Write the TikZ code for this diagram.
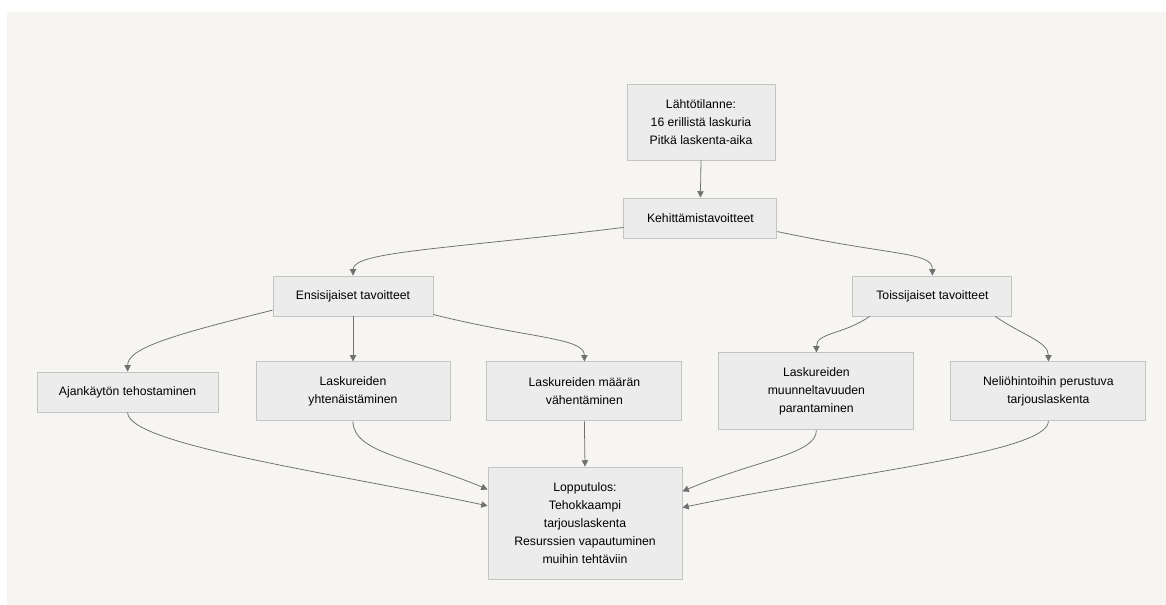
\documentclass[tikz,border=0pt]{standalone}
\usepackage{fontspec}
\setmainfont{Liberation Sans}
\usetikzlibrary{positioning,calc,arrows.meta}
\definecolor{bgpaper}{HTML}{F6F5F1}
\definecolor{boxfill}{HTML}{ECECEC}
\definecolor{boxline}{HTML}{C4C4C4}
\definecolor{edgegray}{HTML}{707070}

\begin{document}
\begin{tikzpicture}[
	box/.style={draw=boxline,fill=boxfill,line width=0.6pt,align=center,inner sep=0pt,font=\fontsize{8.7}{12.8}\selectfont},
	edge/.style={draw=edgegray,line width=0.55pt,-{Triangle[width=4.5pt,length=4.5pt]}}]
    		\useasboundingbox (0,0) rectangle (29.15,15.125);
    		\fill[white] (0,0) rectangle (29.15,15.125);
    		\fill[bgpaper] (0.175,0) rectangle (29.15,14.825);
    		
    		\node[box,minimum width=3.7cm,minimum height=1.9cm] (A) at (17.525,12.075) {Lähtötilanne:\\16 erillistä laskuria\\Pitkä laskenta-aika};
    		\node[box,minimum width=3.825cm,minimum height=1cm] (B) at (17.51,9.675) {Kehittämistavoitteet};
    		\node[box,minimum width=4cm,minimum height=1cm] (C) at (8.825,7.725) {Ensisijaiset tavoitteet};
    		\node[box,minimum width=3.975cm,minimum height=1cm] (D) at (23.31,7.725) {Toissijaiset tavoitteet};
    		\node[box,minimum width=4.525cm,minimum height=1cm] (E) at (3.19,5.325) {Ajankäytön tehostaminen};
    		\node[box,minimum width=4.85cm,minimum height=1.475cm] (F) at (8.825,5.34) {Laskureiden\\yhtenäistäminen};
    		\node[box,minimum width=4.875cm,minimum height=1.475cm] (G) at (14.61,5.34) {Laskureiden määrän\\vähentäminen};
    		\node[box,minimum width=4.875cm,minimum height=1.925cm] (H) at (20.41,5.34) {Laskureiden\\muunneltavuuden\\parantaminen};
    		\node[box,minimum width=4.875cm,minimum height=1.475cm] (I) at (26.21,5.34) {Neliöhintoihin perustuva\\tarjouslaskenta};
    		\node[box,minimum width=4.85cm,minimum height=2.8cm] (J) at (14.625,2.05) {Lopputulos:\\Tehokkaampi\\tarjouslaskenta\\Resurssien vapautuminen\\muihin tehtäviin};
    		
    		\draw[edge] (A.south) -- (B.north);
    		\draw[edge] (B.187) to[out=187,in=90,out distance=4.5cm,in distance=0.6cm] (C.north);
    		\draw[edge] (B.-10) to[out=-12,in=90,out distance=3cm,in distance=0.6cm] (D.north);
    		\draw[edge] (C.190) to[out=194,in=90,out distance=2.5cm,in distance=0.6cm] (E.north);
    		\draw[edge] (C.south) -- (F.north);
    		\draw[edge] (C.-13) to[out=-14,in=90,out distance=2.5cm,in distance=0.6cm] (G.north);
    		\draw[edge] (D.198) to[out=215,in=90,out distance=0.8cm,in distance=0.5cm] (H.north);
    		\draw[edge] (D.-18) to[out=-35,in=90,out distance=0.8cm,in distance=0.5cm] (I.north);
    		\draw[edge] (E.south) to[out=-90,in=168,out distance=0.8cm,in distance=4cm] (J.170.6);
    		\draw[edge] (F.south) to[out=-90,in=157,out distance=0.8cm,in distance=2cm] (J.161.7);
    		\draw[edge] (G.south) -- (J.north);
    		\draw[edge] (H.south) to[out=-90,in=23,out distance=0.6cm,in distance=2cm] (J.18.3);
    		\draw[edge] (I.south) to[out=-90,in=12,out distance=0.8cm,in distance=4cm] (J.9.4);
    	\end{tikzpicture}
\end{document}
